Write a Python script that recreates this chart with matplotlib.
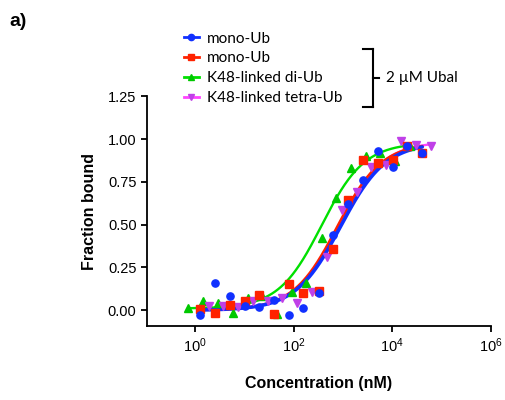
import numpy as np
import matplotlib
matplotlib.use("Agg")
import matplotlib.pyplot as plt
from matplotlib.lines import Line2D

plt.rcParams["font.family"] = ["Liberation Sans", "DejaVu Sans"]
plt.rcParams["mathtext.fontset"] = "custom"
plt.rcParams["mathtext.rm"] = "Liberation Sans"
plt.rcParams["mathtext.it"] = "Liberation Sans:italic"

# --- data (log10 of concentration in nM, fraction bound) ---
log_conc_mono = [0.10, 0.41, 0.71, 1.01, 1.31, 1.61, 1.91, 2.20,
                 2.51, 2.80, 3.11, 3.41, 3.71, 4.01, 4.31, 4.61]
frac_mono = [-0.027, 0.16, 0.084, 0.025, 0.021, 0.06, -0.027, 0.012,
             0.10, 0.44, 0.62, 0.76, 0.93, 0.84, 0.96, 0.92]
frac_mono_ubal = [0.008, -0.016, 0.03, 0.055, 0.09, -0.02, 0.154, 0.10,
                  0.113, 0.36, 0.645, 0.88, 0.86, 0.88, 0.96, 0.92]

log_conc_di = [-0.135, 0.17, 0.47, 0.77, 1.07, 1.36, 1.67, 1.96,
               2.26, 2.57, 2.86, 3.16, 3.46, 3.76, 4.06, 4.36]
frac_di = [0.012, 0.057, 0.043, -0.014, 0.07, 0.084, -0.023, 0.105,
           0.158, 0.42, 0.655, 0.83, 0.90, 0.92, 0.87, 0.96]

log_conc_tetra = [0.28, 0.57, 0.88, 1.18, 1.48, 1.77, 2.08, 2.38,
                  2.68, 2.98, 3.28, 3.58, 3.88, 4.18, 4.48, 4.78]
frac_tetra = [0.025, 0.025, 0.021, 0.055, 0.057, 0.074, 0.041, 0.109,
              0.31, 0.587, 0.694, 0.84, 0.85, 0.99, 0.967, 0.96]

# one-site fit parameters: (Kd nM, hill, bottom, top)
fit_mono = (900.0, 0.95, 0.0, 0.98)
fit_mono_ubal = (780.0, 0.97, 0.0, 0.98)
fit_di = (370.0, 1.0, 0.01, 0.98)
fit_tetra = (820.0, 0.97, 0.0, 0.985)

labels = ["mono-Ub", "mono-Ub", "K48-linked di-Ub", "K48-linked tetra-Ub"]


def fit_curve(logx, params):
    kd, n, bot, top = params
    xs = np.logspace(min(logx), max(logx), 300)
    return xs, bot + (top - bot) * xs**n / (kd**n + xs**n)


fig = plt.figure(figsize=(5.06, 4.0), dpi=100)
ax = fig.add_axes([0.2905, 0.185, 0.6795, 0.574])

series = [
    # (logx, y, fit, line colour, marker colour, marker, lw)
    (log_conc_di, frac_di, fit_di, "#00e000", "#00c800", "^", 1.7),
    (log_conc_tetra, frac_tetra, fit_tetra, "#ff44ff", "#c040e8", "v", 1.7),
    (log_conc_mono, frac_mono_ubal, fit_mono_ubal, "#ff2200", "#ff2200", "s", 2.0),
    (log_conc_mono, frac_mono, fit_mono, "#1030ff", "#1030ff", "o", 2.6),
]

# lines first
for logx, y, fit, lc, mc, mk, lw in series:
    xs, ys = fit_curve(logx, fit)
    ax.plot(xs, ys, color=lc, lw=lw, zorder=2, solid_capstyle="round")
# markers
for logx, y, fit, lc, mc, mk, lw in series:
    ax.plot(10 ** np.array(logx), y, ls="none", marker=mk, color=mc,
            ms=5.2, mec=mc, zorder=3)

ax.set_xscale("log")
ax.set_xlim(10 ** -0.97, 1e6)
ax.set_ylim(-0.092, 1.25)
ax.set_xticks([1, 1e2, 1e4, 1e6])
ax.set_xticklabels([r"$10^0$", r"$10^2$", r"$10^4$", r"$10^6$"])
ax.xaxis.set_minor_locator(matplotlib.ticker.NullLocator())
ax.set_yticks([0, 0.25, 0.5, 0.75, 1.0, 1.25])
ax.set_yticklabels(["0.00", "0.25", "0.50", "0.75", "1.00", "1.25"])
for s in ["top", "right"]:
    ax.spines[s].set_visible(False)
for s in ["left", "bottom"]:
    ax.spines[s].set_linewidth(1.3)
ax.tick_params(direction="out", length=4, width=1.3, labelsize=10.5)

ax.set_xlabel("Concentration (nM)", fontsize=11.5, fontweight="bold", labelpad=15)
ax.set_ylabel("Fraction bound", fontsize=11.5, fontweight="bold", labelpad=8)

# legend
leg_colors = [("#1030ff", "#1030ff", "o"), ("#ff2200", "#ff2200", "s"),
              ("#00e000", "#00c800", "^"), ("#ff44ff", "#c040e8", "v")]
handles = [Line2D([], [], color=lc, lw=2, marker=mk, mfc=mc, mec=mc, ms=4.5)
           for lc, mc, mk in leg_colors]
fig.legend(handles, labels, loc="upper left", bbox_to_anchor=(0.348, 0.94),
           frameon=False, handlelength=1.0, handletextpad=0.5,
           labelspacing=0.38, borderpad=0,
           prop={"family": ["Lato", "DejaVu Sans"], "size": 11})

# bracket for the Ubal group
bx, by0, by1 = 373 / 506, 1 - 49 / 400, 1 - 107 / 400
ym = 1 - 78 / 400
for xs_, ys_ in [([363 / 506, bx], [by0, by0]), ([bx, bx], [by0, by1]),
                 ([363 / 506, bx], [by1, by1]), ([bx, 379 / 506], [ym, ym])]:
    fig.add_artist(Line2D(xs_, ys_, color="black", lw=1.5, transform=fig.transFigure))
fig.text(386 / 506, ym, "2 µM Ubal", va="center", ha="left", fontsize=11,
         family=["Lato", "DejaVu Sans"])

fig.text(9 / 506, 1 - 21 / 400, "a)", va="center", ha="left", fontsize=14,
         fontweight="bold")

fig.savefig("out.png", dpi=100)
